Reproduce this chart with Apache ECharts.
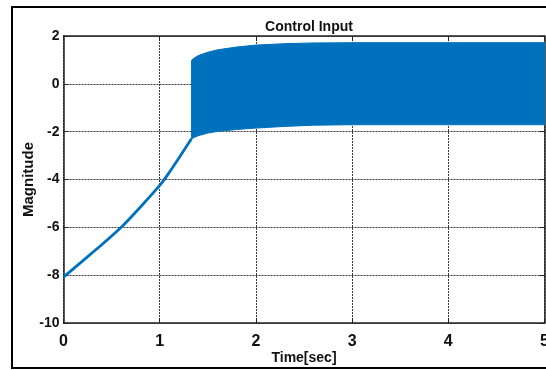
<!DOCTYPE html>
<html>
<head>
<meta charset="utf-8">
<script src="https://cdn.jsdelivr.net/npm/echarts@6/dist/echarts.min.js"></script>
<style>
  html, body { margin: 0; padding: 0; background: #fff; overflow: hidden; width: 546px; height: 370px; }
  #chart { width: 546px; height: 370px; position: absolute; left: 0; top: 0; }
</style>
</head>
<body>
<div id="chart"></div>
<script>
// Reaching phase of the control signal (time in seconds, magnitude)
var reachTime = [0, 0.2, 0.4, 0.6, 0.8, 1.0, 1.1, 1.2, 1.33];
var reachValue = [-8.08, -7.4, -6.72, -6.0, -5.15, -4.25, -3.7, -3.1, -2.3];

// Sliding phase: the switching signal fills the band between these envelopes
var bandTime = [1.33, 1.36, 1.4, 1.5, 1.6, 1.8, 2.0, 2.3, 2.6, 3.0, 4.0, 5.0];
var bandUpper = [0.98, 1.08, 1.18, 1.32, 1.42, 1.54, 1.62, 1.68, 1.71, 1.72, 1.72, 1.72];
var bandLower = [-2.3, -2.24, -2.17, -2.06, -1.99, -1.91, -1.85, -1.78, -1.73, -1.71, -1.71, -1.71];

// Axis ticks
var xTicks = [0, 1, 2, 3, 4, 5];
var yTicks = [-10, -8, -6, -4, -2, 0, 2];

var lineBlue = '#0072BD';
var inkColor = '#111';
var fontFam = '"Liberation Sans", Arial, sans-serif';

var chart = echarts.init(document.getElementById('chart'), null, { renderer: 'canvas', width: 546, height: 370 });

var reachData = reachTime.map(function (t, i) { return [t, reachValue[i]]; });

var gridSplit = { show: true, lineStyle: { color: '#3a3a3a', width: 1, type: [2, 1] } };

chart.setOption({
  animation: false,
  backgroundColor: '#fff',
  title: {
    text: 'Control Input',
    left: 304,
    top: 15,
    textAlign: 'center',
    textStyle: { fontFamily: fontFam, fontSize: 14, fontWeight: 'bold', color: inkColor }
  },
  graphic: [{
    type: 'rect',
    shape: { x: 12, y: 7, width: 700, height: 361 },
    style: { fill: null, stroke: '#000', lineWidth: 2 },
    silent: true,
    z: 100
  }],
  grid: { left: 63.5, top: 36, width: 481, height: 287, containLabel: false, outerBoundsMode: 'none' },
  xAxis: [{
    type: 'value',
    min: xTicks[0],
    max: xTicks[xTicks.length - 1],
    interval: 1,
    name: 'Time[sec]',
    nameLocation: 'middle',
    nameGap: 28,
    nameMoveOverlap: false,
    nameTextStyle: { fontFamily: fontFam, fontSize: 14, fontWeight: 'bold', color: inkColor },
    axisLine: { show: true, onZero: false, lineStyle: { color: '#222', width: 1.5 } },
    axisTick: { show: true, inside: true, length: 5, lineStyle: { color: '#222' } },
    axisLabel: { fontFamily: fontFam, fontSize: 16, fontWeight: 'bold', color: inkColor, margin: 11 },
    splitLine: gridSplit
  }, {
    type: 'value',
    position: 'top',
    min: xTicks[0],
    max: xTicks[xTicks.length - 1],
    interval: 1,
    axisLine: { show: true, onZero: false, lineStyle: { color: '#222', width: 1.5 } },
    axisTick: { show: true, inside: true, length: 5, lineStyle: { color: '#222' } },
    axisLabel: { show: false },
    splitLine: { show: false }
  }],
  yAxis: [{
    type: 'value',
    min: yTicks[0],
    max: yTicks[yTicks.length - 1],
    interval: 2,
    name: 'Magnitude',
    nameLocation: 'middle',
    nameGap: 27,
    nameMoveOverlap: false,
    nameTextStyle: { fontFamily: fontFam, fontSize: 15, fontWeight: 'bold', color: inkColor },
    axisLine: { show: true, onZero: false, lineStyle: { color: '#222', width: 1.5 } },
    axisTick: { show: true, inside: true, length: 5, lineStyle: { color: '#222' } },
    axisLabel: { fontFamily: fontFam, fontSize: 14, fontWeight: 'bold', color: inkColor, margin: 4, padding: [6, 0, 0, 0] },
    splitLine: gridSplit
  }, {
    type: 'value',
    position: 'right',
    min: yTicks[0],
    max: yTicks[yTicks.length - 1],
    interval: 2,
    axisLine: { show: true, onZero: false, lineStyle: { color: '#222', width: 1.5 } },
    axisTick: { show: true, inside: true, length: 5, lineStyle: { color: '#222' } },
    axisLabel: { show: false },
    splitLine: { show: false }
  }],
  series: [{
    type: 'custom',
    name: 'switching band',
    xAxisIndex: 0,
    yAxisIndex: 0,
    clip: true,
    data: [[bandTime[0], bandUpper[0]]],
    renderItem: function (params, api) {
      if (params.dataIndex !== 0) return null;
      var pts = [];
      for (var i = 0; i < bandTime.length; i++) {
        pts.push(api.coord([bandTime[i], bandUpper[i]]));
      }
      for (var j = bandTime.length - 1; j >= 0; j--) {
        pts.push(api.coord([bandTime[j], bandLower[j]]));
      }
      return {
        type: 'polygon',
        shape: { points: pts, smooth: 0 },
        style: { fill: lineBlue, stroke: lineBlue, lineWidth: 1 }
      };
    },
    z: 3
  }, {
    type: 'line',
    name: 'reaching',
    xAxisIndex: 0,
    yAxisIndex: 0,
    data: reachData,
    smooth: 0.2,
    showSymbol: false,
    lineStyle: { color: lineBlue, width: 2.8 },
    z: 4
  }]
});
</script>
</body>
</html>
